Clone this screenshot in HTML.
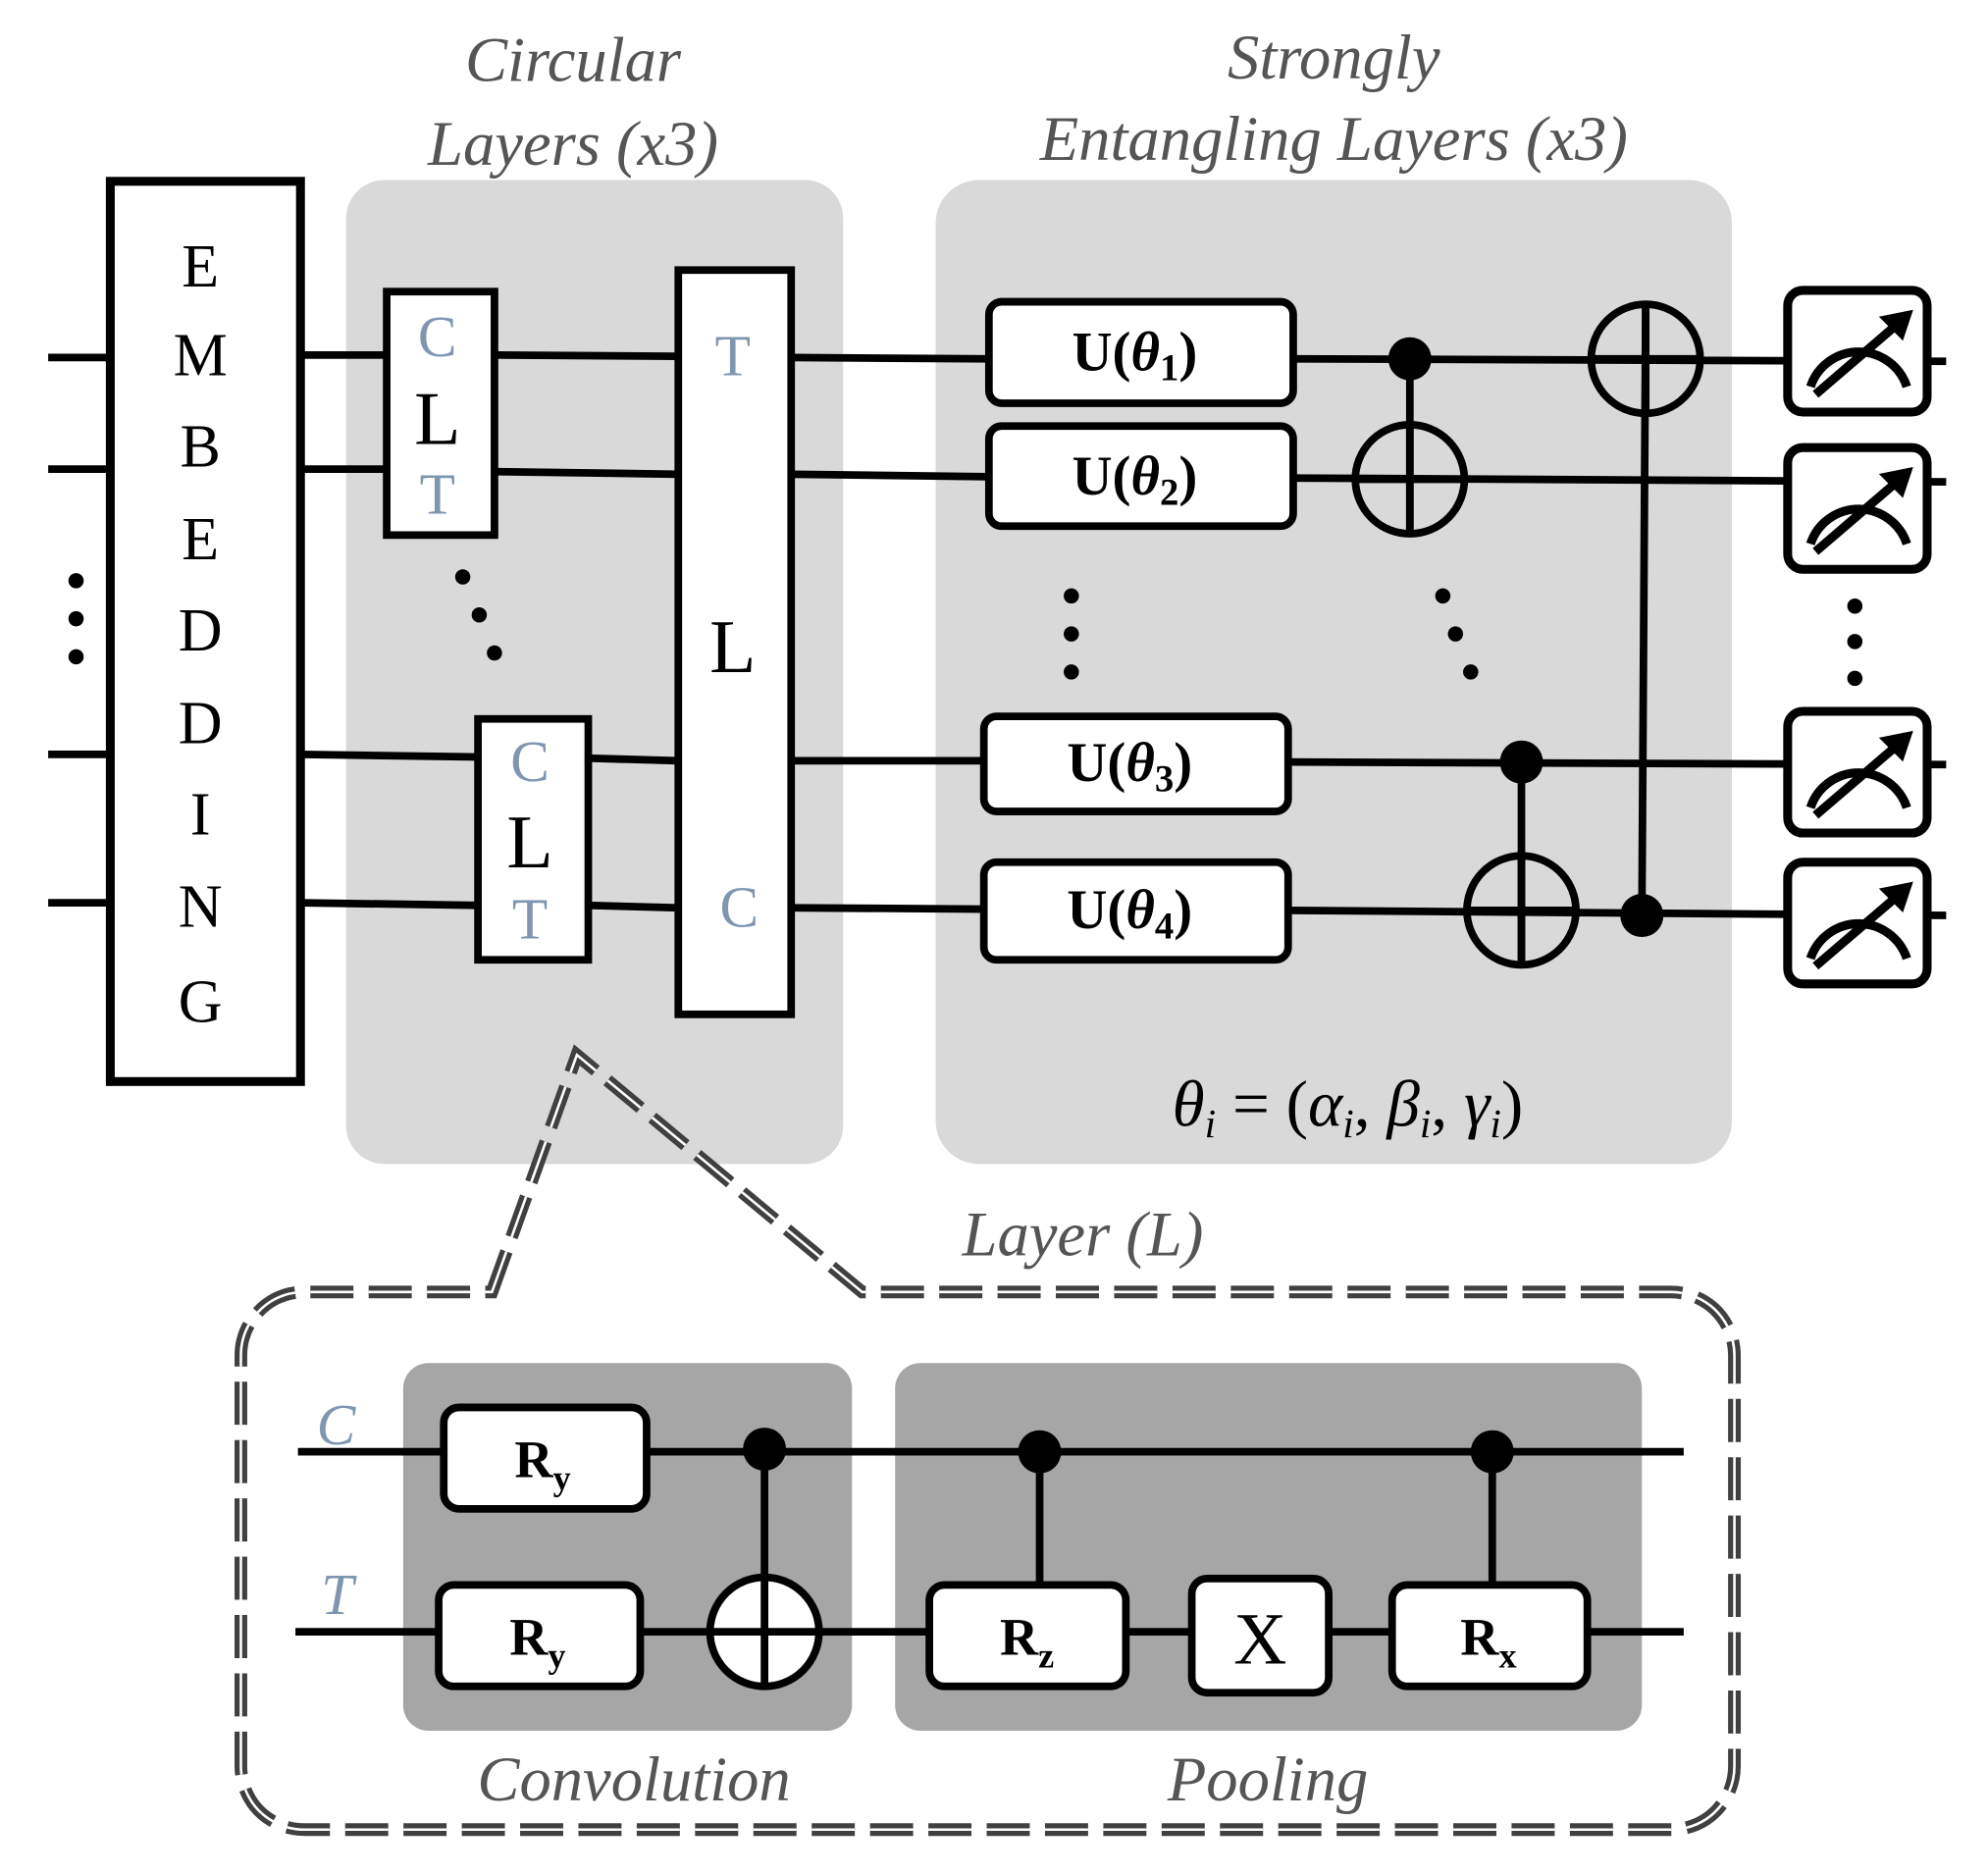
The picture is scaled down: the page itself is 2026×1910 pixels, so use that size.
<!DOCTYPE html>
<html><head><style>html,body{margin:0;padding:0;background:#fff}svg{display:block}</style></head>
<body>
<svg width="2026" height="1910" viewBox="0 0 1568 1478" preserveAspectRatio="none" xmlns="http://www.w3.org/2000/svg" font-family="Liberation Serif, serif">
<defs>
<g id="meter"><rect x="0" y="0" width="110" height="96" rx="12" fill="#fff" stroke="#000" stroke-width="7"/>
<path d="M18,76 A40,40 0 0 1 94,76" fill="none" stroke="#000" stroke-width="7"/>
<line x1="22" y1="82" x2="92" y2="22" stroke="#000" stroke-width="7"/>
<path d="M96,18 L76,22 L90,36 Z" fill="#000" stroke="#000" stroke-width="4"/></g>
</defs>
<rect x="273" y="142" width="392" height="776" rx="30" fill="#d9d9d9"/>
<rect x="738" y="142" width="628" height="776" rx="34" fill="#d9d9d9"/>
<g font-style="italic" fill="#555" font-size="50" text-anchor="middle">
<text x="452" y="64">Circular</text><text x="452" y="130">Layers (x3)</text>
<text x="1052" y="62">Strongly</text><text x="1052" y="126">Entangling Layers (x3)</text>
<text x="854" y="990">Layer (L)</text>
<text x="500" y="1420">Convolution</text><text x="1000" y="1420">Pooling</text>
</g>
<g stroke="#000" stroke-width="6" fill="none">
<line x1="38" y1="282" x2="87" y2="282"/><line x1="38" y1="370" x2="87" y2="370"/>
<line x1="38" y1="595" x2="87" y2="595"/><line x1="38" y1="712" x2="87" y2="712"/>
<line x1="237" y1="280" x2="305" y2="280"/><line x1="237" y1="370" x2="305" y2="370"/>
<line x1="237" y1="595" x2="377" y2="597"/><line x1="237" y1="712" x2="377" y2="714"/>
<line x1="390" y1="280" x2="535" y2="281"/><line x1="390" y1="372" x2="535" y2="374"/>
<line x1="464" y1="598" x2="535" y2="600"/><line x1="464" y1="714" x2="535" y2="716"/>
<line x1="624" y1="282" x2="780" y2="283"/><line x1="624" y1="374" x2="780" y2="376"/>
<line x1="624" y1="600" x2="780" y2="600"/><line x1="624" y1="716" x2="780" y2="717"/>
<line x1="1020" y1="283" x2="1535" y2="285"/><line x1="1020" y1="377" x2="1535" y2="380"/>
<line x1="1016" y1="601" x2="1535" y2="603"/><line x1="1016" y1="718" x2="1535" y2="722"/>
<line x1="1112" y1="283" x2="1112" y2="420"/>
<line x1="1298" y1="240" x2="1295" y2="722"/>
<line x1="1200" y1="601" x2="1200" y2="760"/>
</g>
<g fill="#000"><circle cx="60" cy="458" r="6"/><circle cx="60" cy="488" r="6"/><circle cx="60" cy="518" r="6"/>
<circle cx="365" cy="455" r="6"/><circle cx="378" cy="485" r="6"/><circle cx="390" cy="515" r="6"/>
<circle cx="845" cy="470" r="6"/><circle cx="845" cy="500" r="6"/><circle cx="845" cy="530" r="6"/>
<circle cx="1138" cy="470" r="6"/><circle cx="1148" cy="500" r="6"/><circle cx="1160" cy="530" r="6"/>
<circle cx="1463" cy="478" r="6"/><circle cx="1463" cy="506" r="6"/><circle cx="1463" cy="535" r="6"/>
<circle cx="1112" cy="283" r="17"/><circle cx="1200" cy="601" r="17"/><circle cx="1295" cy="722" r="17"/>
</g>
<g fill="none" stroke="#000" stroke-width="6">
<circle cx="1112" cy="378" r="43"/><line x1="1069" y1="378" x2="1155" y2="378"/><line x1="1112" y1="335" x2="1112" y2="421"/>
<circle cx="1298" cy="283" r="43"/><line x1="1255" y1="283" x2="1341" y2="283"/><line x1="1298" y1="240" x2="1298" y2="326"/>
<circle cx="1200" cy="718" r="43"/><line x1="1157" y1="718" x2="1243" y2="718"/><line x1="1200" y1="675" x2="1200" y2="761"/>
</g>
<rect x="87" y="143" width="150" height="710" fill="#fff" stroke="#000" stroke-width="7"/>
<g font-size="48" text-anchor="middle"><text x="158" y="226">E</text><text x="158" y="296">M</text><text x="158" y="368">B</text><text x="158" y="441">E</text><text x="158" y="513">D</text><text x="158" y="586">D</text><text x="158" y="658">I</text><text x="158" y="731">N</text><text x="158" y="806">G</text></g>
<rect x="305" y="230" width="85" height="192" fill="#fff" stroke="#000" stroke-width="6"/>
<rect x="377" y="567" width="87" height="190" fill="#fff" stroke="#000" stroke-width="6"/>
<rect x="535" y="213" width="89" height="587" fill="#fff" stroke="#000" stroke-width="6"/>
<g text-anchor="middle" font-size="46">
<text x="345" y="281" fill="#8096b0">C</text><text x="345" y="350" font-size="60">L</text><text x="345" y="405" fill="#8096b0">T</text>
<text x="418" y="616" fill="#8096b0">C</text><text x="418" y="684" font-size="60">L</text><text x="418" y="740" fill="#8096b0">T</text>
<text x="578" y="296" fill="#8096b0">T</text><text x="578" y="530" font-size="60">L</text><text x="583" y="731" fill="#8096b0">C</text>
</g>
<g fill="#fff" stroke="#000" stroke-width="6">
<rect x="780" y="238" width="240" height="80" rx="10"/><rect x="780" y="336" width="240" height="79" rx="10"/>
<rect x="776" y="565" width="240" height="75" rx="10"/><rect x="776" y="680" width="240" height="77" rx="10"/>
</g>
<g font-size="44" font-weight="bold" text-anchor="middle">
<text x="895" y="292">U(<tspan font-style="italic">θ</tspan><tspan font-size="30" dy="8">1</tspan><tspan dy="-8">)</tspan></text>
<text x="895" y="390">U(<tspan font-style="italic">θ</tspan><tspan font-size="30" dy="8">2</tspan><tspan dy="-8">)</tspan></text>
<text x="891" y="616">U(<tspan font-style="italic">θ</tspan><tspan font-size="30" dy="8">3</tspan><tspan dy="-8">)</tspan></text>
<text x="891" y="732">U(<tspan font-style="italic">θ</tspan><tspan font-size="30" dy="8">4</tspan><tspan dy="-8">)</tspan></text>
</g>
<text x="1063" y="888" font-size="52" text-anchor="middle" font-style="italic">θ<tspan font-size="32" dy="9">i</tspan><tspan dy="-9" font-style="normal"> = (</tspan>α<tspan font-size="32" dy="9">i</tspan><tspan dy="-9" font-style="normal">, </tspan>β<tspan font-size="32" dy="9">i</tspan><tspan dy="-9" font-style="normal">, </tspan>γ<tspan font-size="32" dy="9">i</tspan><tspan dy="-9" font-style="normal">)</tspan></text>
<use href="#meter" x="1410" y="229"/><use href="#meter" x="1410" y="353"/>
<use href="#meter" x="1410" y="561"/><use href="#meter" x="1410" y="680"/>
<path d="M388,1019 L455,832 L680,1019 L1318,1019 A50,50 0 0 1 1368,1069 L1368,1393 A50,50 0 0 1 1318,1443 L240,1443 A50,50 0 0 1 190,1393 L190,1069 A50,50 0 0 1 240,1019 Z" fill="none" stroke="#404040" stroke-width="10" stroke-dasharray="34,12"/>
<path d="M388,1019 L455,832 L680,1019 L1318,1019 A50,50 0 0 1 1368,1069 L1368,1393 A50,50 0 0 1 1318,1443 L240,1443 A50,50 0 0 1 190,1393 L190,1069 A50,50 0 0 1 240,1019 Z" fill="none" stroke="#fff" stroke-width="2" stroke-dasharray="34,12"/>
<rect x="318" y="1075" width="354" height="290" rx="20" fill="#a6a6a6"/>
<rect x="706" y="1075" width="589" height="290" rx="20" fill="#a6a6a6"/>
<g stroke="#000" stroke-width="6" fill="none">
<line x1="235" y1="1145" x2="1328" y2="1145"/><line x1="233" y1="1287" x2="1328" y2="1287"/>
<line x1="603" y1="1143" x2="603" y2="1330"/><line x1="820" y1="1145" x2="820" y2="1250"/><line x1="1177" y1="1145" x2="1177" y2="1250"/>
<circle cx="603" cy="1287" r="43" fill="#fff"/><line x1="560" y1="1287" x2="646" y2="1287"/><line x1="603" y1="1244" x2="603" y2="1330"/>
</g>
<g fill="#000"><circle cx="603" cy="1143" r="17"/><circle cx="820" cy="1145" r="17"/><circle cx="1177" cy="1145" r="17"/></g>
<g fill="#fff" stroke="#000" stroke-width="6">
<rect x="350" y="1110" width="160" height="80" rx="12"/><rect x="346" y="1250" width="159" height="80" rx="12"/>
<rect x="733" y="1250" width="155" height="80" rx="12"/><rect x="940" y="1245" width="108" height="90" rx="12"/>
<rect x="1098" y="1250" width="154" height="80" rx="12"/>
</g>
<g font-size="42" font-weight="bold" text-anchor="middle">
<text x="428" y="1165">R<tspan font-size="28" dy="10">y</tspan></text>
<text x="424" y="1305">R<tspan font-size="28" dy="10">y</tspan></text>
<text x="810" y="1305">R<tspan font-size="28" dy="10">z</tspan></text>
<text x="1174" y="1305">R<tspan font-size="28" dy="10">x</tspan></text>
</g>
<text x="994" y="1312" font-size="58" text-anchor="middle">X</text>
<g font-style="italic" fill="#8096b0" font-size="46" text-anchor="middle"><text x="265" y="1139">C</text><text x="266" y="1273">T</text></g>
</svg>
</body></html>
